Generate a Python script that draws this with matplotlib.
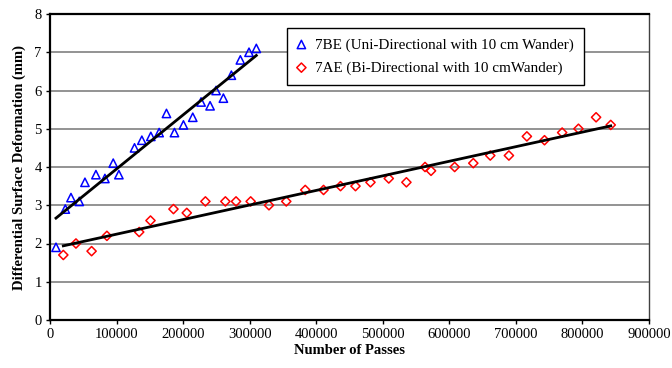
import matplotlib
matplotlib.use('Agg')
import matplotlib.pyplot as plt
import numpy as np

plt.rcParams['font.family'] = ['Liberation Serif', 'DejaVu Serif']

# 7BE (uni-directional) readings
passes_7be = [9000, 23000, 31500, 44000, 52500, 69000, 82500, 95000, 103500,
              127000, 138000, 151500, 164000, 175000, 187000, 200500, 214500,
              227000, 240500, 249500, 260500, 272500, 286000, 299000, 310000]
defo_7be = [1.9, 2.9, 3.2, 3.1, 3.6, 3.8, 3.7, 4.1, 3.8,
            4.5, 4.7, 4.8, 4.9, 5.4, 4.9, 5.1, 5.3,
            5.7, 5.6, 6.0, 5.8, 6.4, 6.8, 7.0, 7.1]

# 7AE (bi-directional) readings
passes_7ae = [20000, 39000, 62500, 85500, 134000, 151000, 185500, 205500,
              233500, 263500, 279500, 301500, 329000, 355000, 383500, 411000,
              436500, 459000, 481500, 509000, 535500, 563500, 572500, 608000,
              636000, 661500, 689500, 716500, 743000, 769500, 794000, 820500,
              842500]
defo_7ae = [1.7, 2.0, 1.8, 2.2, 2.3, 2.6, 2.9, 2.8,
            3.1, 3.1, 3.1, 3.1, 3.0, 3.1, 3.4, 3.4,
            3.5, 3.5, 3.6, 3.7, 3.6, 4.0, 3.9, 4.0,
            4.1, 4.3, 4.3, 4.8, 4.7, 4.9, 5.0, 5.3,
            5.1]

label_7be = '7BE (Uni-Directional with 10 cm Wander)'
label_7ae = '7AE (Bi-Directional with 10 cmWander)'

fig = plt.figure(figsize=(6.72, 3.68), dpi=100)
ax = fig.add_axes([50 / 672, 48 / 368, 599 / 672, 306 / 368])

ax.set_xlim(0, 900000)
ax.set_ylim(0, 8)
ax.set_xticks(np.arange(0, 900001, 100000))
ax.set_yticks(np.arange(0, 9, 1))
ax.yaxis.grid(True, color='#808080', lw=1.2)
ax.set_axisbelow(True)

ax.scatter(passes_7be, defo_7be, marker='^', s=36, facecolors='none',
           edgecolors='#0000ff', linewidths=1.1, label=label_7be, zorder=3)
ax.scatter(passes_7ae, defo_7ae, marker='D', s=22, facecolors='none',
           edgecolors='#ff0000', linewidths=1.1, label=label_7ae, zorder=3)

# linear trendlines
for xs, ys in [(passes_7be, defo_7be), (passes_7ae, defo_7ae)]:
    k, b = np.polyfit(xs, ys, 1)
    xx = np.array([min(xs), max(xs)])
    ax.plot(xx, k * xx + b, color='black', lw=2, zorder=4)

for s in ['left', 'bottom', 'top']:
    ax.spines[s].set_linewidth(1.6)
    ax.spines[s].set_color('black')
ax.spines['right'].set_linewidth(1)
ax.spines['right'].set_color('#404040')

ax.tick_params(direction='out', length=3, width=1, labelsize=10.5, pad=3)
ax.set_xlabel('Number of Passes', fontsize=10.5, fontweight='bold', labelpad=2)
ax.set_ylabel('Differential Surface Deformation (mm)', fontsize=10.5,
              fontweight='bold', labelpad=6)

leg = ax.legend(loc='upper left', bbox_to_anchor=(237 / 599, 1 - 14 / 306),
                borderaxespad=0, fontsize=10.9, frameon=True, fancybox=False,
                handlelength=0.6, handletextpad=0.6, borderpad=0.65,
                labelspacing=0.62)
leg.get_frame().set_edgecolor('black')
leg.get_frame().set_linewidth(1)
leg.get_frame().set_alpha(1)

fig.savefig('out.png', dpi=100)
